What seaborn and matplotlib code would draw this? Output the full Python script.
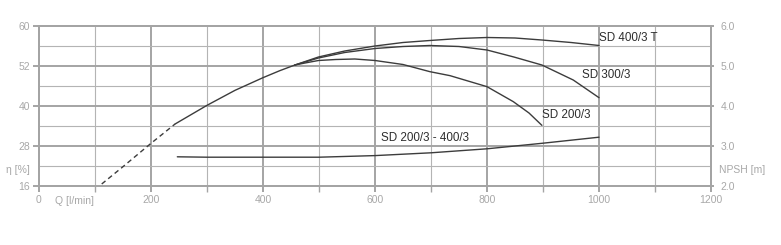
import numpy as np
import pandas as pd
import matplotlib
matplotlib.use("Agg")
import matplotlib.pyplot as plt
import seaborn as sns

# ---- data ----
# shared efficiency curve (dashed part, then solid part)
main_dash_q = [112, 150, 200, 243]
main_dash_eta = [16.6, 21.8, 28.8, 34.6]
main_q = [243, 300, 350, 400, 430, 457]
main_eta = [34.6, 40.2, 44.7, 48.5, 50.6, 52.2]

sd400t_q = [457, 499, 546, 600, 650, 698, 750, 800, 850, 898, 950, 1000]
sd400t_eta = [52.2, 53.8, 55.0, 56.0, 56.7, 57.1, 57.5, 57.7, 57.6, 57.2, 56.7, 56.1]

sd300_q = [457, 499, 546, 600, 650, 698, 750, 800, 848, 898, 954, 1000]
sd300_eta = [52.2, 53.6, 54.7, 55.5, 55.9, 56.1, 55.9, 55.2, 53.8, 52.2, 47.8, 42.5]

sd200_q = [457, 475, 499, 530, 564, 600, 650, 698, 734, 800, 847, 875, 898]
sd200_eta = [52.2, 52.6, 53.1, 53.3, 53.4, 53.1, 52.3, 50.3, 49.1, 45.8, 41.3, 37.9, 34.2]

npsh_q = [247, 300, 400, 500, 600, 700, 800, 900, 1000]
npsh_m = [2.73, 2.72, 2.72, 2.72, 2.76, 2.83, 2.93, 3.07, 3.22]

eta_ticks = [16, 28, 40, 52, 60]
eta_minor = [22, 34, 46, 56]
npsh_ticks = [2.0, 3.0, 4.0, 5.0, 6.0]
q_ticks = [0, 200, 400, 600, 800, 1000, 1200]
q_minor = [100, 300, 500, 700, 900, 1100]

labels = ["SD 400/3 T", "SD 300/3", "SD 200/3", "SD 200/3 - 400/3"]

# ---- style ----
sns.set_style("white")
plt.rcParams['font.family'] = ['Liberation Sans', 'DejaVu Sans']

W, H, DPI = 781, 245, 100
fig = plt.figure(figsize=(W / DPI, H / DPI), dpi=DPI)
ax = fig.add_axes([39 / W, 1 - 186 / H, (711 - 39) / W, (186 - 26) / H])

grid_major = "#a4a4a4"
grid_minor = "#b4b4b4"
tick_col = "#a8a8a8"
line_col = "#3c3c3c"
text_col = "#2e2e2e"

pos = np.arange(len(eta_ticks), dtype=float)
def fwd(y):
    return np.interp(y, eta_ticks, pos)
def inv(p):
    return np.interp(p, pos, eta_ticks)

ax.set_yscale('function', functions=(fwd, inv))
ax.set_xlim(0, 1200)
ax.set_ylim(16, 60)

# curves
lw = 1.0
sns.lineplot(x=main_dash_q, y=main_dash_eta, ax=ax, color=line_col, lw=lw,
             linestyle=(0, (3.5, 2.5)), sort=False)
sns.lineplot(x=main_q, y=main_eta, ax=ax, color=line_col, lw=lw, sort=False)
sns.lineplot(x=sd400t_q, y=sd400t_eta, ax=ax, color=line_col, lw=lw, sort=False)
sns.lineplot(x=sd300_q, y=sd300_eta, ax=ax, color=line_col, lw=lw, sort=False)
sns.lineplot(x=sd200_q, y=sd200_eta, ax=ax, color=line_col, lw=lw, sort=False)

ax2 = ax.twinx()
ax2.set_ylim(2, 6)
sns.lineplot(x=npsh_q, y=npsh_m, ax=ax2, color=line_col, lw=lw, sort=False)

# ticks / grid
ax.set_yticks(eta_ticks)
ax.set_yticklabels([str(v) for v in eta_ticks])
ax.set_yticks(eta_minor, minor=True)
ax.set_xticks(q_ticks)
ax.set_xticklabels([str(v) for v in q_ticks])
ax.set_xticks(q_minor, minor=True)
ax.grid(which='major', color=grid_major, lw=1.4)
ax.grid(which='minor', color=grid_minor, lw=0.8)
ax.set_axisbelow(True)

ax.tick_params(axis='y', which='major', left=True, length=4.5, width=1.4,
               color=grid_major, pad=2, labelsize=7.5, labelcolor=tick_col)
ax.tick_params(axis='y', which='minor', left=False, length=0)
ax.tick_params(axis='x', which='both', bottom=True, length=4.5, width=1.4,
               color=grid_major, pad=2, labelsize=7.5, labelcolor=tick_col)
ax.tick_params(axis='x', which='minor', width=1.0)

ax2.set_yticks(npsh_ticks)
ax2.set_yticklabels([f"{v:.1f}" for v in npsh_ticks])
ax2.tick_params(axis='y', right=True, length=2, width=1.4, color=grid_major,
                pad=5, labelsize=7.5, labelcolor=tick_col)
ax2.grid(False)
ax.set_xlabel("")
ax.set_ylabel("")
ax2.set_ylabel("")

for a in (ax, ax2):
    for s in a.spines.values():
        s.set_color(grid_major)
        s.set_linewidth(1.4)

# curve labels
fs = 8.4
ax.text(1000, 57.6, labels[0], ha='left', va='center', fontsize=fs, color=text_col)
ax.text(970, 49.3, labels[1], ha='left', va='center', fontsize=fs, color=text_col)
ax.text(898, 37.3, labels[2], ha='left', va='center', fontsize=fs, color=text_col)
ax.text(611, 30.4, labels[3], ha='left', va='center', fontsize=fs, color=text_col)

# axis captions
fig.text(30 / W, 1 - 170 / H, "η [%]", ha='right', va='center', fontsize=7.5, color=tick_col)
fig.text(55 / W, 1 - 201 / H, "Q [l/min]", ha='left', va='center', fontsize=7.5, color=tick_col)
fig.text(719 / W, 1 - 170 / H, "NPSH [m]", ha='left', va='center', fontsize=7.5, color=tick_col)

fig.savefig("out.png", dpi=DPI)
